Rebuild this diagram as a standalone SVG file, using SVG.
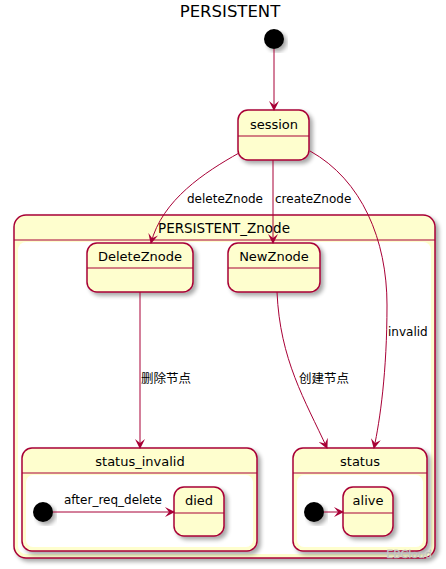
<svg xmlns="http://www.w3.org/2000/svg" width="446" height="569" viewBox="0 0 446 569">
<style>
.st{fill:#FEFECE;stroke:#A80036;stroke-width:1.5}
.in{fill:#FFFFFF;stroke:none}
.ln{stroke:#A80036;stroke-width:1.2;fill:none}
.e{fill:none;stroke:#A80036;stroke-width:1;marker-end:url(#ah)}
.t{font-family:"DejaVu Sans","Noto Sans CJK SC",sans-serif;font-size:13px;fill:#000;text-anchor:middle}
.lb{font-family:"DejaVu Sans","Noto Sans CJK SC",sans-serif;font-size:12px;fill:#000}
.dot{fill:#000}
</style>
<defs>
<filter id="sh" x="-10%" y="-10%" width="130%" height="130%">
<feGaussianBlur in="SourceAlpha" stdDeviation="2"/>
<feOffset dx="3" dy="3" result="o"/>
<feComponentTransfer><feFuncA type="linear" slope="0.35"/></feComponentTransfer>
<feMerge><feMergeNode/><feMergeNode in="SourceGraphic"/></feMerge>
</filter>
<marker id="ah" viewBox="0 0 10 10" refX="9" refY="5" markerWidth="10" markerHeight="10" markerUnits="userSpaceOnUse" orient="auto">
<path d="M0,0 L10,5 L0,10 L4,5 Z" fill="#A80036"/>
</marker>
</defs>
<rect width="446" height="569" fill="#FFFFFF"/>
<text x="230" y="17" style="font-family:'DejaVu Sans',sans-serif;font-size:16.5px;text-anchor:middle">PERSISTENT</text>

<g id="start"><circle cx="274" cy="39" r="10" class="dot" filter="url(#sh)"/></g>

<g id="session">
<rect x="238" y="110" width="71" height="50" rx="10" class="st" filter="url(#sh)"/>
<line x1="238" y1="136" x2="309" y2="136" class="ln"/>
<text x="274" y="129" class="t">session</text>
</g>

<g id="PERSISTENT_Znode">
<rect x="14" y="215" width="421" height="343" rx="12" class="st" filter="url(#sh)"/>
<rect x="18" y="242" width="413" height="312" rx="8" class="in"/>
<line x1="14" y1="240" x2="435" y2="240" class="ln"/>
<text x="224" y="233" class="t" style="font-size:13.5px">PERSISTENT_Znode</text>
</g>

<g id="DeleteZnode">
<rect x="87" y="243" width="106" height="49" rx="10" class="st" filter="url(#sh)"/>
<line x1="87" y1="268" x2="193" y2="268" class="ln"/>
<text x="140" y="261" class="t">DeleteZnode</text>
</g>

<g id="NewZnode">
<rect x="228" y="243" width="92" height="49" rx="10" class="st" filter="url(#sh)"/>
<line x1="228" y1="268" x2="320" y2="268" class="ln"/>
<text x="274" y="261" class="t">NewZnode</text>
</g>

<g id="status_invalid">
<rect x="22" y="448" width="235" height="103" rx="10" class="st" filter="url(#sh)"/>
<rect x="26" y="475" width="227" height="72" rx="7" class="in"/>
<line x1="22" y1="473" x2="257" y2="473" class="ln"/>
<text x="140" y="466" class="t">status_invalid</text>
</g>

<g id="status">
<rect x="293" y="448" width="134" height="103" rx="10" class="st" filter="url(#sh)"/>
<rect x="297" y="475" width="126" height="72" rx="7" class="in"/>
<line x1="293" y1="473" x2="427" y2="473" class="ln"/>
<text x="360" y="466" class="t">status</text>
</g>

<g id="start_invalid"><circle cx="43" cy="512" r="10" class="dot" filter="url(#sh)"/></g>
<g id="died">
<rect x="174" y="487" width="50" height="49" rx="10" class="st" filter="url(#sh)"/>
<line x1="174" y1="513" x2="224" y2="513" class="ln"/>
<text x="199" y="505" class="t">died</text>
</g>

<g id="start_status"><circle cx="314" cy="512" r="10" class="dot" filter="url(#sh)"/></g>
<g id="alive">
<rect x="343" y="487" width="50" height="49" rx="10" class="st" filter="url(#sh)"/>
<line x1="343" y1="513" x2="393" y2="513" class="ln"/>
<text x="368" y="505" class="t">alive</text>
</g>

<g id="connectors">
<path d="M274,49 L274,110" class="e"/>
<path d="M239,153 C205,172 162,200 151,243" class="e"/>
<text x="187" y="203" class="lb">deleteZnode</text>
<path d="M273,160 L273,243" class="e"/>
<text x="275" y="203" class="lb">createZnode</text>
<path d="M310,151 C362,180 387,240 387,305 C387,372 380,420 374,448" class="e"/>
<text x="388" y="336" class="lb">invalid</text>
<path d="M140,292 L140,448" class="e"/>
<text x="141" y="383" class="lb" style="font-size:12.5px">删除节点</text>
<path d="M277,292 C280,360 305,400 327,448" class="e"/>
<text x="299" y="383" class="lb" style="font-size:12.5px">创建节点</text>
<path d="M53,512 L174,512" class="e"/>
<text x="64" y="504" class="lb">after_req_delete</text>
<path d="M324,512 L343,512" class="e"/>
</g>
<text x="432" y="558" style="font-family:'DejaVu Sans',sans-serif;font-size:11px;fill:#d8d8d8;text-anchor:end;stroke:#aaaaaa;stroke-width:0.3">EBCloud</text>
</svg>
